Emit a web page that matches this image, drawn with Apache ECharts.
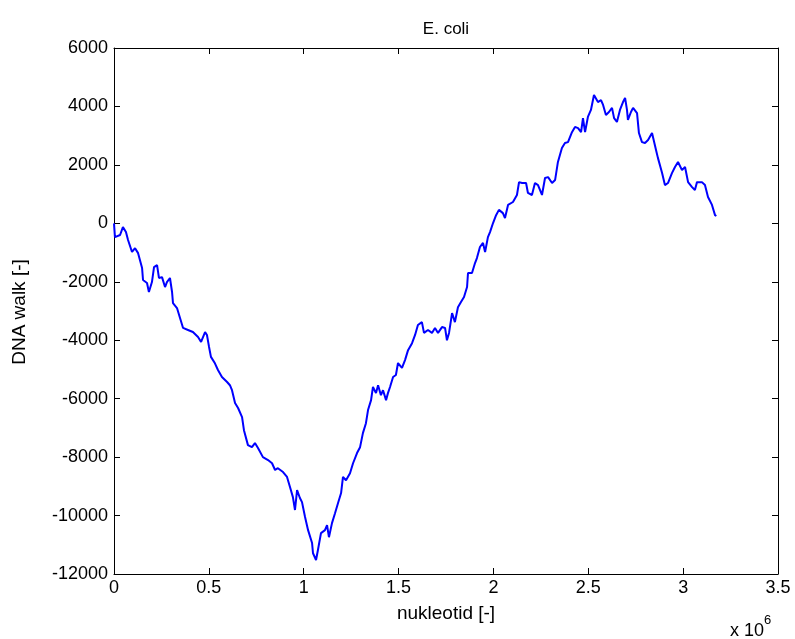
<!DOCTYPE html>
<html>
<head>
<meta charset="utf-8">
<script src="https://cdn.jsdelivr.net/npm/echarts@6/dist/echarts.min.js"></script>
<style>
html,body{margin:0;padding:0;background:#fff;}
#chart{width:795px;height:639px;}
</style>
</head>
<body>
<div id="chart"></div>
<script>
// Position along the genome, in thousands of nucleotides
const nucleotideK = [
  0, 5, 32, 47, 63, 74, 95, 111, 127, 148, 153, 174, 184, 200, 211, 227, 237, 253, 269, 279,
  295, 306, 311, 332, 348, 364, 390, 416, 443, 459, 480, 490, 501, 511, 532,
  548, 569, 596, 611, 622, 638, 654, 675, 685, 706, 727, 743, 759, 785, 812, 833, 849, 864,
  891, 912, 928, 943, 954, 965, 980, 991, 1007, 1023, 1044, 1049, 1065, 1075, 1091,
  1112, 1123, 1133, 1149, 1165, 1181, 1197, 1207, 1223, 1244, 1260, 1281, 1297, 1312, 1328,
  1339, 1355, 1365, 1381, 1392, 1407, 1418, 1434, 1444, 1455, 1471, 1486, 1497, 1518, 1534,
  1550, 1571, 1587, 1602, 1623, 1634, 1655, 1676, 1692, 1708, 1729, 1745, 1755, 1766, 1782,
  1797, 1813, 1829, 1845, 1861, 1866, 1887, 1903, 1913, 1929, 1945, 1956, 1971, 1982, 1998,
  2014, 2029, 2050, 2061, 2077, 2103, 2124, 2135, 2151, 2172, 2182, 2203, 2219, 2235, 2256,
  2272, 2288, 2309, 2325, 2340, 2361, 2377, 2393, 2414, 2430, 2446, 2462, 2472, 2483, 2498,
  2514, 2530, 2551, 2567, 2578, 2593, 2609, 2625, 2636, 2651, 2667, 2683, 2694, 2704, 2709,
  2725, 2736, 2757, 2767, 2783, 2799, 2815, 2836, 2846, 2857, 2867, 2889, 2904, 2920, 2941,
  2957, 2973, 2994, 3010, 3026, 3047, 3062, 3073, 3099, 3115, 3131, 3152, 3168, 3175
];
// Cumulative DNA walk value
const dnaWalk = [
  0, -470, -400, -130, -300, -570, -980, -850, -1020, -1530, -1940, -2040, -2350, -2010, -1500, -1430, -1870, -1840, -2180, -2010,
  -1870, -2350, -2730, -2900, -3240, -3580, -3650, -3720, -3890, -4060, -3720, -3820, -4230, -4570, -4790,
  -5020, -5260, -5430, -5540, -5710, -6150, -6320, -6630, -7080, -7590, -7660, -7520, -7690, -8000, -8100, -8210, -8440, -8380,
  -8510, -8680, -9030, -9370, -9810, -9130, -9400, -9540, -10050, -10500, -10940, -11290, -11520, -11180, -10600,
  -10500, -10330, -10740, -10260, -9920, -9570, -9230, -8680, -8790, -8550, -8210, -7860, -7660, -7180, -6840,
  -6390, -6050, -5600, -5810, -5540, -5880, -5710, -6050, -5810, -5600, -5260, -5190, -4780, -4950, -4680,
  -4340, -4100, -3820, -3480, -3380, -3750, -3650, -3750, -3580, -3750, -3550, -3580, -4000, -3750, -3070,
  -3380, -2870, -2690, -2520, -2180, -1700, -1700, -1360, -1190, -810, -670, -980, -470, -300, 10,
  280, 460, 350, 180, 630, 730, 970, 1410, 1380, 1380, 1040, 970, 1380, 1310, 970,
  1550, 1580, 1380, 1480, 2100, 2580, 2750, 2780, 3120, 3300, 3260, 3120, 3600, 3120, 3640,
  3880, 4390, 4150, 4220, 4050, 3710, 3810, 3950, 3600, 3470, 3880, 4150, 4290, 3880, 3540,
  3810, 3950, 3770, 3090, 2780, 2750, 2850, 3090, 3090, 2510, 2240, 1720, 1310, 1380, 1720,
  1930, 2100, 1820, 1930, 1410, 1240, 1140, 1410, 1410, 1310, 900, 630, 280, 250
];
const xTicks = [0, 500000, 1000000, 1500000, 2000000, 2500000, 3000000, 3500000];
const yTicks = [-12000, -10000, -8000, -6000, -4000, -2000, 0, 2000, 4000, 6000];

const seriesData = nucleotideK.map((k, i) => [k * 1000, dnaWalk[i]]);

const FONT = 'Liberation Sans, Arial, sans-serif';
const FS = 18;
const xMin = xTicks[0], xMax = xTicks[xTicks.length - 1], xInt = xTicks[1] - xTicks[0];
const yMin = yTicks[0], yMax = yTicks[yTicks.length - 1], yInt = yTicks[1] - yTicks[0];

const baseAxisLine = { show: true, onZero: false, lineStyle: { color: '#000', width: 1 } };
const baseTick = { show: true, inside: true, length: 6, lineStyle: { color: '#000', width: 1 } };

const chart = echarts.init(document.getElementById('chart'), null, { renderer: 'canvas' });
chart.setOption({
  animation: false,
  backgroundColor: '#ffffff',
  grid: { left: 114, right: 17, top: 48, bottom: 65, containLabel: false },
  xAxis: [
    {
      type: 'value', min: xMin, max: xMax, interval: xInt, position: 'bottom',
      axisLine: baseAxisLine, axisTick: baseTick, splitLine: { show: false },
      axisLabel: { color: '#000', fontFamily: FONT, fontSize: FS, margin: 5,
        formatter: v => String(v / 1e6) }
    },
    {
      type: 'value', min: xMin, max: xMax, interval: xInt, position: 'top',
      axisLine: baseAxisLine, axisTick: baseTick, splitLine: { show: false },
      axisLabel: { show: false }
    }
  ],
  yAxis: [
    {
      type: 'value', min: yMin, max: yMax, interval: yInt, position: 'left',
      axisLine: baseAxisLine, axisTick: baseTick, splitLine: { show: false },
      axisLabel: { color: '#000', fontFamily: FONT, fontSize: FS, margin: 6,
        formatter: v => String(v) }
    },
    {
      type: 'value', min: yMin, max: yMax, interval: yInt, position: 'right',
      axisLine: baseAxisLine, axisTick: baseTick, splitLine: { show: false },
      axisLabel: { show: false }
    }
  ],
  series: [{
    type: 'line', data: seriesData, showSymbol: false, symbol: 'none',
    lineStyle: { color: '#0000ff', width: 2 }, silent: true
  }],
  graphic: [
    { type: 'text', x: 446, y: 29, style: { text: 'E. coli', font: `17px ${FONT}`, fill: '#000', align: 'center', verticalAlign: 'middle' } },
    { type: 'text', x: 446, y: 614, style: { text: 'nukleotid [-]', font: `19px ${FONT}`, fill: '#000', align: 'center', verticalAlign: 'middle' } },
    { type: 'text', x: 20, y: 312, rotation: Math.PI / 2, style: { text: 'DNA walk [-]', font: `19px ${FONT}`, fill: '#000', align: 'center', verticalAlign: 'middle' } },
    { type: 'text', x: 730, y: 622, style: { text: 'x 10', font: `${FS}px ${FONT}`, fill: '#000', align: 'left', verticalAlign: 'top' } },
    { type: 'text', x: 764, y: 614, style: { text: '6', font: `13px ${FONT}`, fill: '#000', align: 'left', verticalAlign: 'top' } }
  ]
});
</script>
</body>
</html>
